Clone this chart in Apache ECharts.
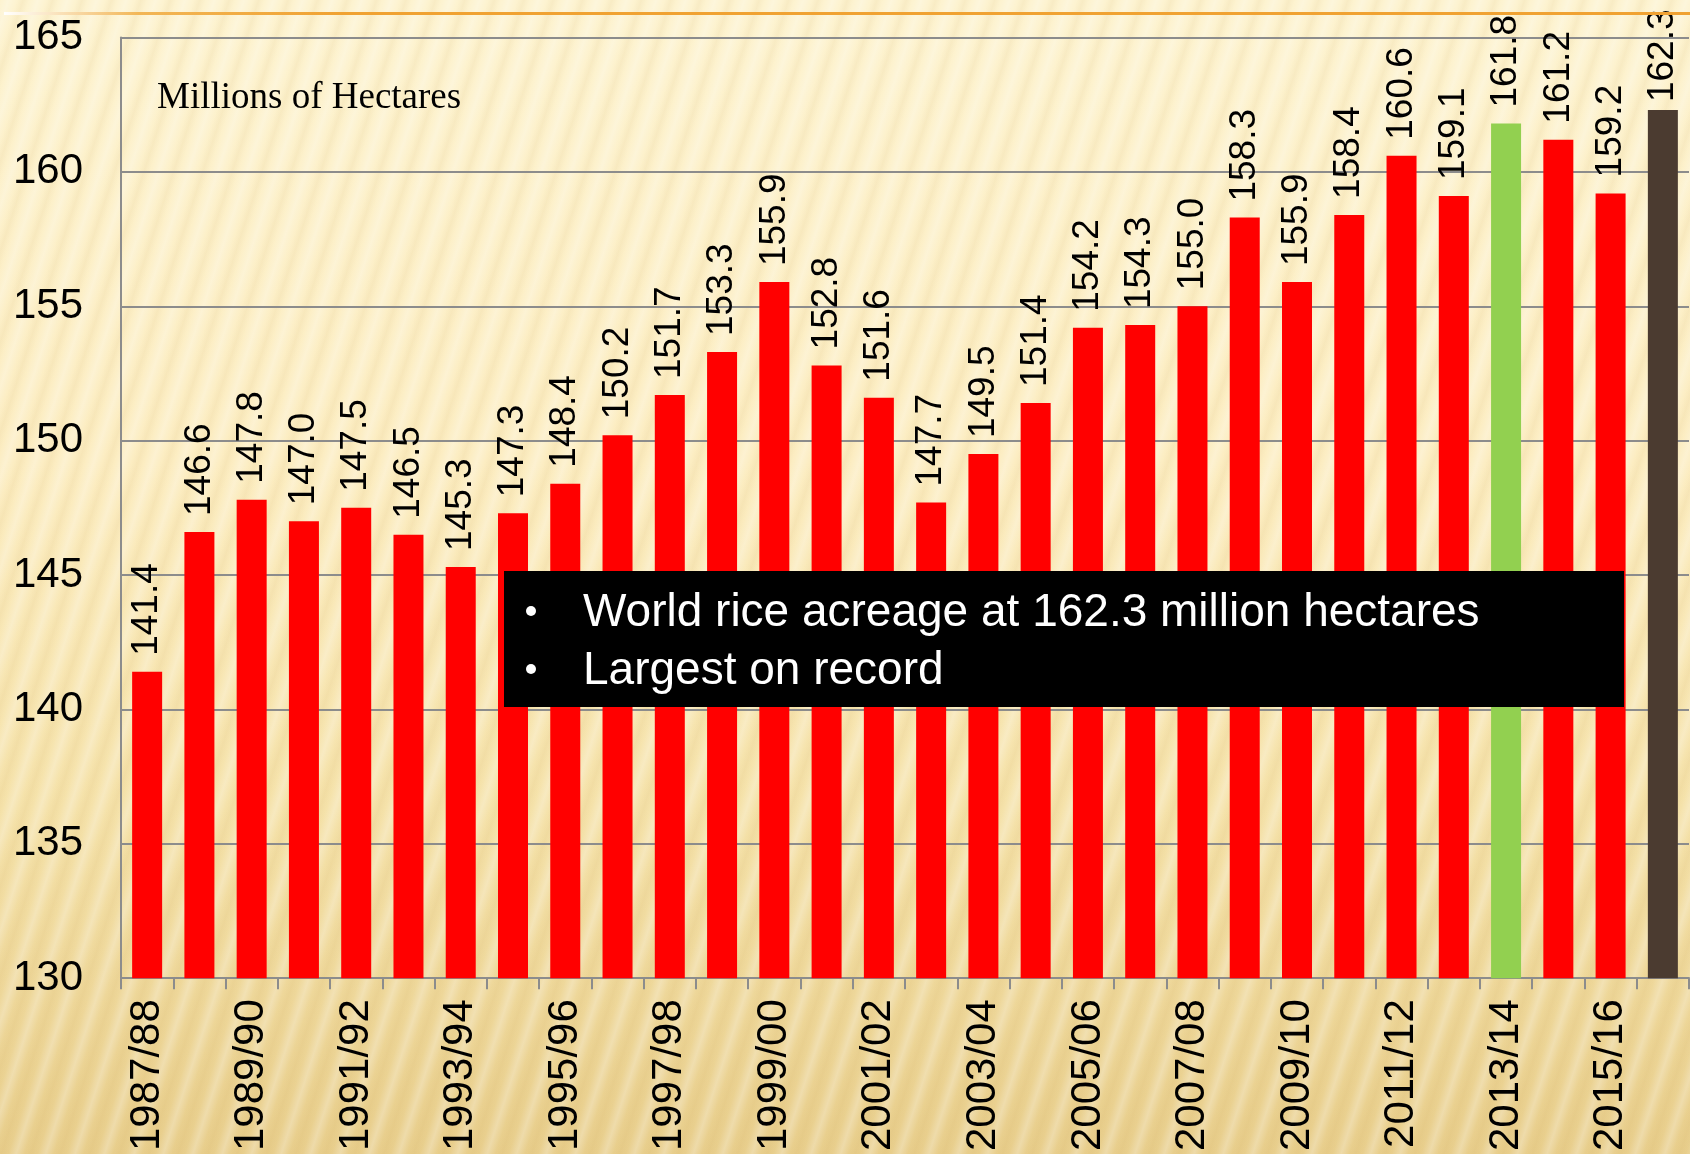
<!DOCTYPE html>
<html>
<head>
<meta charset="utf-8">
<title>World rice acreage</title>
<script src="https://cdn.jsdelivr.net/npm/echarts@6/dist/echarts.min.js"></script>
<style>
  html, body { margin: 0; padding: 0; }
  body {
    width: 1690px; height: 1154px; overflow: hidden;
    background:
      repeating-linear-gradient(108deg, rgba(255,255,255,0.0) 0px, rgba(255,255,255,0.25) 8px, rgba(255,255,255,0.0) 16px, rgba(200,160,80,0.09) 22px, rgba(255,255,255,0.0) 28px),
      linear-gradient(180deg, #FDF3D0 0%, #FCEDC2 40%, #F5E2AA 70%, #E8CE8C 100%);
  }
  #chart { width: 1690px; height: 1154px; }
</style>
</head>
<body>
<div id="chart"></div>
<script>
// marketing years
var categories = ['1987/88','1988/89','1989/90','1990/91','1991/92','1992/93','1993/94','1994/95',
  '1995/96','1996/97','1997/98','1998/99','1999/00','2000/01','2001/02','2002/03','2003/04',
  '2004/05','2005/06','2006/07','2007/08','2008/09','2009/10','2010/11','2011/12','2012/13',
  '2013/14','2014/15','2015/16','2016/17'];
// million hectares
var acreage = [141.4,146.6,147.8,147.0,147.5,146.5,145.3,147.3,148.4,150.2,151.7,153.3,155.9,152.8,
  151.6,147.7,149.5,151.4,154.2,154.3,155.0,158.3,155.9,158.4,160.6,159.1,161.8,161.2,159.2,162.3];
var yMin = 130, yMax = 165, yStep = 5;
var unitLabel = 'Millions of Hectares';
var notes = ['World rice acreage at 162.3 million hectares', 'Largest on record'];
var prevRecord = '2013/14', latest = '2016/17';

var barData = [];
for (var i = 0; i < categories.length; i++) {
  var item = { value: acreage[i], itemStyle: { color: '#FF0000' } };
  if (categories[i] == prevRecord) item.itemStyle.color = '#92D050';
  else if (categories[i] == latest) {
    item.itemStyle.color = '#4B3B30';
    item.label = { distance: 8 }; // squeezed under the top edge
  }
  barData.push(item);
}

var noteFont = '46px "Liberation Sans", Arial, sans-serif';
var chart = echarts.init(document.getElementById('chart'), null, { renderer: 'canvas' });
var option = {
  backgroundColor: 'transparent',
  animation: false,
  grid: { left: 121, right: 1, top: 37.5, bottom: 175 },
  xAxis: {
    type: 'category',
    data: categories,
    axisLine: { lineStyle: { color: '#8C8C8C', width: 2 } },
    axisTick: { show: true, interval: 0, length: 11, lineStyle: { color: '#8C8C8C', width: 2 } },
    axisLabel: {
      interval: 1, rotate: 90, margin: 21,
      fontFamily: 'Liberation Sans, Arial, sans-serif', fontSize: 42, color: '#000'
    }
  },
  yAxis: {
    type: 'value', min: yMin, max: yMax, interval: yStep,
    axisLine: { show: true, lineStyle: { color: '#8C8C8C', width: 2 } },
    axisTick: { show: false },
    splitLine: { lineStyle: { color: '#8C8C8C', width: 2 } },
    axisLabel: {
      margin: 38, fontFamily: 'Liberation Sans, Arial, sans-serif', fontSize: 42, color: '#000'
    }
  },
  series: [{
    type: 'bar',
    data: barData,
    barWidth: 30,
    label: {
      show: true, position: 'top', distance: 16, rotate: 90,
      align: 'left', verticalAlign: 'middle',
      fontFamily: 'Liberation Sans, Arial, sans-serif', fontSize: 37, color: '#000',
      formatter: function (p) { return p.value.toFixed(1); }
    }
  }],
  graphic: [
    {
      // orange rule across the top of the slide
      type: 'rect', left: 4, top: 12, z: 100,
      shape: { width: 1686, height: 3 },
      style: {
        fill: new echarts.graphic.LinearGradient(0, 0, 1, 0, [
          { offset: 0, color: '#FFFFFF' },
          { offset: 0.08, color: '#F2B656' },
          { offset: 0.2, color: '#F0A232' },
          { offset: 1, color: '#F0A232' }
        ])
      }
    },
    {
      type: 'text', left: 157, top: 80, z: 100,
      style: { text: unitLabel, font: '37px "Liberation Serif", "Times New Roman", serif', fill: '#000' }
    },
    // callout box over the bars
    { type: 'rect', left: 504, top: 571, z: 100, shape: { width: 1120, height: 136 }, style: { fill: '#000' } },
    { type: 'circle', left: 526, top: 606, z: 101, shape: { r: 5 }, style: { fill: '#fff' } },
    { type: 'circle', left: 526, top: 664, z: 101, shape: { r: 5 }, style: { fill: '#fff' } },
    { type: 'text', left: 583, top: 590, z: 101, style: { text: notes[0], font: noteFont, fill: '#fff' } },
    { type: 'text', left: 583, top: 648, z: 101, style: { text: notes[1], font: noteFont, fill: '#fff' } }
  ]
};
chart.setOption(option);
</script>
</body>
</html>
